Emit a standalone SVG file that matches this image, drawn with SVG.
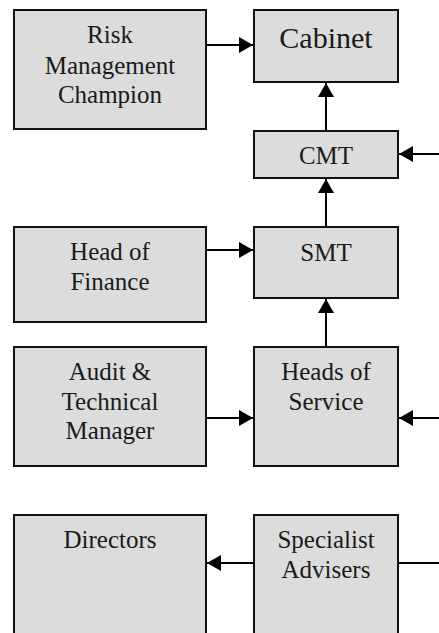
<svg xmlns="http://www.w3.org/2000/svg" width="439" height="633" viewBox="0 0 439 633">
<style>
.box{fill:#dcdcdc;stroke:#111;stroke-width:2}
.t{font-family:"Liberation Serif","Times New Roman",serif;font-size:25px;fill:#1a1a1a;text-anchor:middle}
.big{font-size:30px}
.c{stroke:#000;stroke-width:2;fill:none}
</style>
<defs>
<marker id="ah" markerUnits="userSpaceOnUse" markerWidth="14" markerHeight="16" refX="14" refY="8" orient="auto">
<path d="M0,0 L14,8 L0,16 z" fill="#000"/>
</marker>
</defs>
<rect width="439" height="633" fill="#fff"/>
<g id="connectors">
<path class="c" d="M207,45 H253" marker-end="url(#ah)"/>
<path class="c" d="M326,130 V83" marker-end="url(#ah)"/>
<path class="c" d="M439,154 H399" marker-end="url(#ah)"/>
<path class="c" d="M326,226 V179" marker-end="url(#ah)"/>
<path class="c" d="M207,250 H253" marker-end="url(#ah)"/>
<path class="c" d="M326,346 V299" marker-end="url(#ah)"/>
<path class="c" d="M207,418 H253" marker-end="url(#ah)"/>
<path class="c" d="M439,418 H399" marker-end="url(#ah)"/>
<path class="c" d="M253,563 H207" marker-end="url(#ah)"/>
<path class="c" d="M399,563 H439"/>
</g>
<g id="risk">
<rect class="box" x="14" y="10" width="192" height="119"/>
<text class="t" x="110" y="43">Risk</text>
<text class="t" x="110" y="74">Management</text>
<text class="t" x="110" y="103">Champion</text>
</g>
<g id="cabinet">
<rect class="box" x="254" y="10" width="144" height="72"/>
<text class="t big" x="326" y="48">Cabinet</text>
</g>
<g id="cmt">
<rect class="box" x="254" y="131" width="144" height="47"/>
<text class="t" x="326" y="164">CMT</text>
</g>
<g id="finance">
<rect class="box" x="14" y="227" width="192" height="95"/>
<text class="t" x="110" y="260">Head of</text>
<text class="t" x="110" y="290">Finance</text>
</g>
<g id="smt">
<rect class="box" x="254" y="227" width="144" height="71"/>
<text class="t" x="326" y="261">SMT</text>
</g>
<g id="audit">
<rect class="box" x="14" y="347" width="192" height="119"/>
<text class="t" x="110" y="380">Audit &amp;</text>
<text class="t" x="110" y="410">Technical</text>
<text class="t" x="110" y="439">Manager</text>
</g>
<g id="hos">
<rect class="box" x="254" y="347" width="144" height="119"/>
<text class="t" x="326" y="380">Heads of</text>
<text class="t" x="326" y="410">Service</text>
</g>
<g id="directors">
<rect class="box" x="14" y="515" width="192" height="130"/>
<text class="t" x="110" y="548">Directors</text>
</g>
<g id="specialist">
<rect class="box" x="254" y="515" width="144" height="130"/>
<text class="t" x="326" y="548">Specialist</text>
<text class="t" x="326" y="578">Advisers</text>
</g>
</svg>
